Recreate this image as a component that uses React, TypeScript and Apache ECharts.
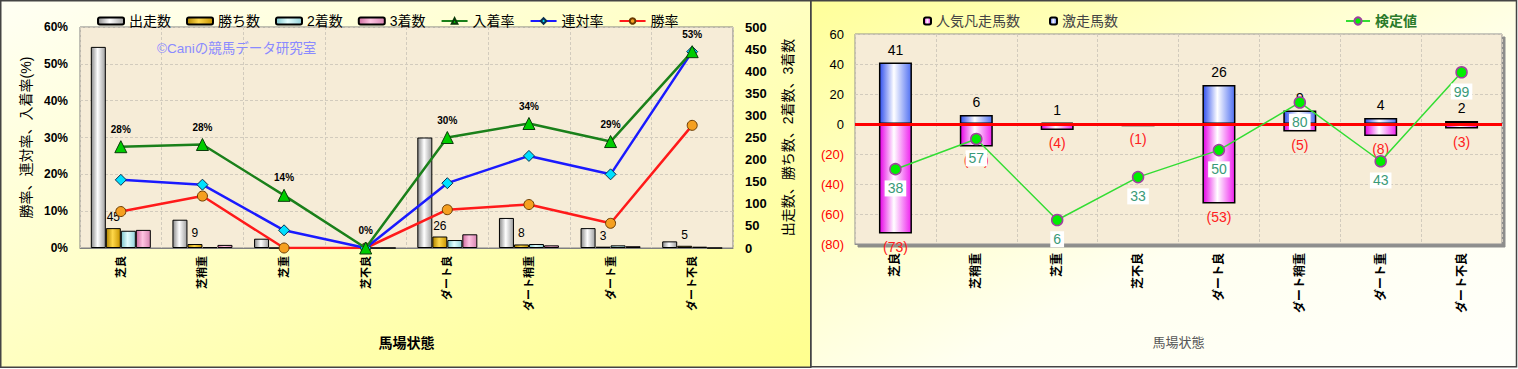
import React, { useEffect, useRef } from "react";
import * as echarts from "echarts";

const categories = ["芝良", "芝稍重", "芝重", "芝不良", "ダート良", "ダート稍重", "ダート重", "ダート不良"];
// left chart (counts on right axis)
const starts = [455, 64, 21, 1, 250, 68, 45, 15];
const wins = [45, 9, 0, 0, 26, 8, 3, 5];
const seconds = [39, 2, 1, 0, 18, 9, 6, 3];
const thirds = [41, 7, 2, 0, 31, 6, 4, 0];
// left chart rates (%)
const placeRate = [27.5, 28.1, 14.3, 0, 30.0, 33.8, 28.9, 53.3];
const rentaiRate = [18.5, 17.2, 4.8, 0, 17.6, 25.0, 20.0, 53.3];
const winRate = [9.9, 14.1, 0, 0, 10.4, 11.8, 6.7, 33.3];
// right chart
const gekisou = [41, 6, 1, 0, 26, 9, 4, 2];
const bonsou = [-73, -15, -4, -1, -53, -5, -8, -3];
const kentei = [38, 57, 6, 33, 50, 80, 43, 99];

const leftLegend = ["出走数", "勝ち数", "2着数", "3着数", "入着率", "連対率", "勝率"];

const FONT = "'Liberation Sans', 'Noto Sans CJK JP', sans-serif";

const hgrad = (a: string, b: string, c: string) =>
  new echarts.graphic.LinearGradient(0, 0, 1, 0, [
    { offset: 0, color: a },
    { offset: 0.45, color: b },
    { offset: 1, color: c },
  ]);

export default function App() {
  const ref = useRef<HTMLDivElement>(null);
  useEffect(() => {
    if (!ref.current) return;
    const chart = echarts.init(ref.current, undefined, { renderer: "svg" });
    const dashed = { show: true, lineStyle: { color: "#d2cbbd", type: [3, 2] as any, width: 1 } };
    const option: any = {
      animation: false,
      textStyle: { fontFamily: FONT },
      graphic: [
        {
          type: "rect",
          z: -10,
          silent: true,
          shape: { x: 0.75, y: 0.75, width: 810, height: 366.5 },
          style: {
            fill: new echarts.graphic.LinearGradient(0, 0, 1, 1, [
              { offset: 0, color: "#fffff4" },
              { offset: 1, color: "#ffff8e" },
            ]),
            stroke: "#444",
            lineWidth: 1.5,
          },
        },
        {
          type: "rect",
          z: -10,
          silent: true,
          shape: { x: 811, y: 0.75, width: 705.5, height: 366 },
          style: {
            fill: new echarts.graphic.LinearGradient(0, 0, 1, 1, [
              { offset: 0, color: "#ffff9a" },
              { offset: 0.6, color: "#fffff0" },
              { offset: 1, color: "#fffffa" },
            ]),
            stroke: "#444",
            lineWidth: 1.5,
          },
        },
        {
          type: "text",
          z: 100,
          left: 157,
          top: 42,
          style: { text: "©Caniの競馬データ研究室", fill: "#8a8aff", fontSize: 13.5, fontFamily: FONT },
        },
      ],
      legend: [
        {
          left: 92,
          top: 9,
          itemWidth: 26,
          itemHeight: 7,
          itemGap: 15,
          textStyle: { fontSize: 14, color: "#000", fontFamily: FONT },
          data: leftLegend,
        },
        {
          left: 918,
          top: 9,
          itemWidth: 7,
          itemHeight: 7,
          itemGap: 29,
          textStyle: { fontSize: 14, color: "#444", fontFamily: FONT },
          data: ["人気凡走馬数", "激走馬数"],
        },
        {
          left: 1340,
          top: 9,
          itemWidth: 24,
          itemHeight: 9,
          textStyle: { fontSize: 14, color: "#2a7a2a", fontWeight: "bold", fontFamily: FONT },
          data: ["検定値"],
        },
      ],
      grid: [
        {
          left: 80,
          top: 27,
          width: 653,
          height: 221,
          show: true,
          backgroundColor: "#f6ecd7",
          borderColor: "#808080",
          borderWidth: 1,
        },
        {
          left: 855,
          top: 34,
          width: 647,
          height: 210,
          show: true,
          backgroundColor: "#f6ecd7",
          borderColor: "#909090",
          borderWidth: 1,
          shadowColor: "rgba(130,130,130,0.9)",
          shadowOffsetX: 3,
          shadowOffsetY: 3,
          shadowBlur: 0,
        },
      ],
      xAxis: [
        {
          type: "category",
          gridIndex: 0,
          data: categories,
          axisLine: { lineStyle: { color: "#808080" } },
          axisTick: { show: false },
          axisLabel: { rotate: 90, interval: 0, fontSize: 11, fontWeight: "bold", color: "#000", margin: 8 },
          splitLine: { ...dashed, interval: 0 },
          name: "馬場状態",
          nameLocation: "middle",
          nameGap: 88,
          nameTextStyle: { fontSize: 14, fontWeight: "bold", color: "#000" },
        },
        {
          type: "category",
          gridIndex: 1,
          data: categories,
          axisLine: { onZero: false, lineStyle: { color: "#909090" } },
          axisTick: { show: false },
          axisLabel: { rotate: 90, interval: 0, fontSize: 12, fontWeight: "bold", color: "#000", margin: 9 },
          splitLine: { ...dashed, interval: 0 },
          name: "馬場状態",
          nameLocation: "middle",
          nameGap: 92,
          nameTextStyle: { fontSize: 13, color: "#555" },
        },
      ],
      yAxis: [
        {
          type: "value",
          gridIndex: 0,
          min: 0,
          max: 60,
          interval: 10,
          axisLine: { show: false },
          axisTick: { show: false },
          axisLabel: { formatter: "{value}%", fontSize: 12, fontWeight: "bold", color: "#000", margin: 12 },
          splitLine: dashed,
          name: "勝率、連対率、入着率(%)",
          nameLocation: "middle",
          nameRotate: 90,
          nameGap: 47,
          nameTextStyle: { fontSize: 14, color: "#000" },
        },
        {
          type: "value",
          gridIndex: 0,
          position: "right",
          min: 0,
          max: 500,
          interval: 50,
          axisLine: { show: false },
          axisTick: { show: false },
          axisLabel: { fontSize: 13, fontWeight: "bold", color: "#000", margin: 12 },
          splitLine: { show: false },
          name: "出走数、勝ち数、2着数、3着数",
          nameLocation: "middle",
          nameRotate: 90,
          nameGap: 48,
          nameTextStyle: { fontSize: 14, color: "#000" },
        },
        {
          type: "value",
          gridIndex: 1,
          min: -80,
          max: 60,
          interval: 20,
          axisLine: { show: false },
          axisTick: { show: false },
          axisLabel: {
            margin: 11,
            formatter: (v: number) => (v < 0 ? `{neg|(${-v})}` : `{pos|${v}}`),
            rich: {
              neg: { color: "#ff0000", fontSize: 13, fontFamily: FONT },
              pos: { color: "#000", fontSize: 13, fontFamily: FONT },
            },
          },
          splitLine: dashed,
        },
        {
          type: "value",
          gridIndex: 1,
          min: -9.1,
          max: 123.1,
          show: false,
          splitLine: { show: false },
        },
      ],
      series: [
        {
          name: "出走数",
          type: "bar",
          xAxisIndex: 0,
          yAxisIndex: 1,
          data: starts,
          barWidth: 15,
          barGap: "0%",
          itemStyle: { color: hgrad("#8a8a8a", "#ffffff", "#a0a0a0"), borderColor: "#000", borderWidth: 1 },
        },
        {
          name: "勝ち数",
          type: "bar",
          xAxisIndex: 0,
          yAxisIndex: 1,
          data: wins,
          barWidth: 15,
          barGap: "0%",
          itemStyle: { color: hgrad("#b08400", "#ffd84a", "#c89400"), borderColor: "#000", borderWidth: 1 },
          label: {
            show: true,
            position: "top",
            distance: 5,
            fontSize: 12,
            color: "#000",
            formatter: (p: any) => (p.value ? String(p.value) : ""),
          },
        },
        {
          name: "2着数",
          type: "bar",
          xAxisIndex: 0,
          yAxisIndex: 1,
          data: seconds,
          barWidth: 15,
          barGap: "0%",
          itemStyle: { color: hgrad("#7cc4cc", "#e4ffff", "#94d2da"), borderColor: "#000", borderWidth: 1 },
        },
        {
          name: "3着数",
          type: "bar",
          xAxisIndex: 0,
          yAxisIndex: 1,
          data: thirds,
          barWidth: 15,
          barGap: "0%",
          itemStyle: { color: hgrad("#d06ca0", "#ffc4e2", "#d884b2"), borderColor: "#000", borderWidth: 1 },
        },
        {
          name: "入着率",
          type: "line",
          xAxisIndex: 0,
          yAxisIndex: 0,
          data: placeRate,
          symbol: "triangle",
          symbolSize: 12,
          lineStyle: { color: "#1a801a", width: 2.5 },
          itemStyle: { color: "#00cc00", borderColor: "#0a3a0a", borderWidth: 1 },
          label: {
            show: true,
            position: "top",
            distance: 6,
            fontSize: 10,
            fontWeight: "bold",
            color: "#000",
            formatter: (p: any) => `${Math.round(p.value)}%`,
          },
          z: 5,
        },
        {
          name: "連対率",
          type: "line",
          xAxisIndex: 0,
          yAxisIndex: 0,
          data: rentaiRate,
          symbol: "diamond",
          symbolSize: 11,
          lineStyle: { color: "#1a1aff", width: 2.5 },
          itemStyle: { color: "#00e0ff", borderColor: "#0a3050", borderWidth: 1 },
          z: 4,
        },
        {
          name: "勝率",
          type: "line",
          xAxisIndex: 0,
          yAxisIndex: 0,
          data: winRate,
          symbol: "circle",
          symbolSize: 10,
          lineStyle: { color: "#ff1a1a", width: 2.5 },
          itemStyle: { color: "#f5a020", borderColor: "#6a3a00", borderWidth: 1 },
          z: 3,
        },
        {
          name: "人気凡走馬数",
          type: "bar",
          xAxisIndex: 1,
          yAxisIndex: 2,
          stack: "r",
          data: bonsou,
          barWidth: 33,
          itemStyle: { color: hgrad("#e600e6", "#ffffff", "#ee22ee"), borderColor: "#000", borderWidth: 1.5 },
          label: {
            show: true,
            position: "bottom",
            distance: 6,
            fontSize: 14,
            color: "#ff2020",
            formatter: (p: any) => `(${-p.value})`,
          },
        },
        {
          name: "激走馬数",
          type: "bar",
          xAxisIndex: 1,
          yAxisIndex: 2,
          stack: "r",
          data: gekisou,
          barWidth: 33,
          itemStyle: { color: hgrad("#3050ee", "#ffffff", "#5070f2"), borderColor: "#000", borderWidth: 1.5 },
          label: {
            show: true,
            position: "top",
            distance: 6,
            fontSize: 14,
            color: "#000",
            formatter: (p: any) => (p.value ? String(p.value) : ""),
          },
          markLine: {
            silent: true,
            symbol: "none",
            label: { show: false },
            lineStyle: { color: "#ff0000", width: 3, type: "solid" },
            data: [{ yAxis: 0 }],
          },
        },
        {
          name: "検定値",
          type: "line",
          xAxisIndex: 1,
          yAxisIndex: 3,
          data: kentei,
          symbol: "circle",
          symbolSize: 11,
          lineStyle: { color: "#33dd33", width: 1.5 },
          itemStyle: { color: "#00ee00", borderColor: "#a040a0", borderWidth: 1.5 },
          label: {
            show: true,
            position: "bottom",
            distance: 5,
            fontSize: 14,
            color: "#3a9a78",
            backgroundColor: "#ffffff",
            padding: [1, 3],
          },
          z: 6,
        },
      ],
    };
    chart.setOption(option);
    return () => chart.dispose();
  }, []);
  return (
    <div
      ref={ref}
      style={{ position: "absolute", left: 0, top: 0, width: 1518, height: 369 }}
    />
  );
}
